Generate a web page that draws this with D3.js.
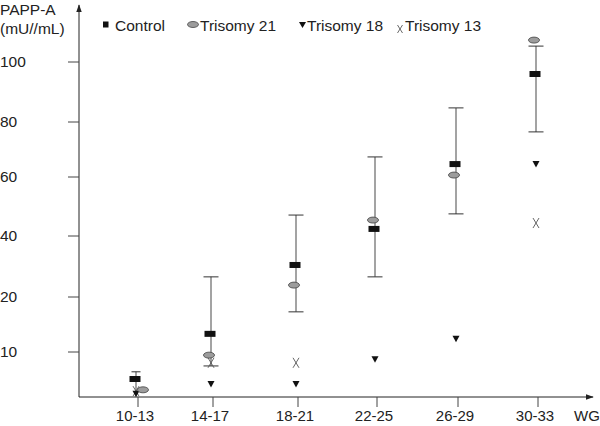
<!DOCTYPE html>
<html><head><meta charset="utf-8">
<script src="https://cdn.jsdelivr.net/npm/d3@7"></script>
<style>body{margin:0;background:#fff}svg{display:block;font-family:"Liberation Sans",Arial,sans-serif}</style>
</head><body><svg id="c" width="600" height="426"></svg>
<script>
const categories = ["10-13","14-17","18-21","22-25","26-29","30-33"];
const controlMean = [4.0, 13.3, 30.5, 42.4, 64.7, 96.0];
const controlHigh = [5.6, 26.6, 47.1, 67.3, 84.7, 105.3];
const controlLow  = [0.9, 6.9, 17.3, 26.6, 47.5, 76.4];
const trisomy21 = [1.6, 9.3, 23.9, 45.4, 60.7, 107.3];
const trisomy18 = [0.7, 2.9, 2.9, 8.4, 12.4, 64.7];
const trisomy13 = [1.3, 7.6, 7.6, null, null, 44.4];
const yTicks = [10, 20, 40, 60, 80, 100];
const legendLabels = ["Control", "Trisomy 21", "Trisomy 18", "Trisomy 13"];

const svg = d3.select("#c");
const ink = "#222";
// piecewise scales (the original axis is not linear)
const y = d3.scaleLinear().domain([0,10,20,40,60,80,100,120]).range([397,352,297,236,177,122,62,2]);
const x = d3.scaleLinear().domain(d3.range(categories.length)).range([138,213,298,377,458,538]);

svg.append("defs").append("marker").attr("id","arr").attr("viewBox","0 0 10 10")
  .attr("refX",9).attr("refY",5).attr("markerWidth",8).attr("markerHeight",8).attr("orient","auto")
  .append("path").attr("d","M0,1.5 L10,5 L0,8.5 Z").attr("fill",ink);
svg.append("line").attr("x1",79).attr("y1",y(0)).attr("x2",79).attr("y2",5)
  .attr("stroke",ink).attr("stroke-width",1).attr("marker-end","url(#arr)");
svg.append("line").attr("x1",79).attr("y1",y(0)).attr("x2",593).attr("y2",y(0))
  .attr("stroke",ink).attr("stroke-width",1).attr("marker-end","url(#arr)");

const yAxis = svg.append("g");
yTicks.forEach(t => {
  yAxis.append("line").attr("x1",68).attr("x2",79).attr("y1",y(t)).attr("y2",y(t)).attr("stroke","#444");
  yAxis.append("text").attr("x",0).attr("y",y(t)).attr("dy","0.35em").attr("font-size",15.5).attr("fill",ink).text(t);
});
categories.forEach((c,i) => {
  svg.append("line").attr("x1",x(i)).attr("x2",x(i)).attr("y1",y(0)).attr("y2",y(0)+10).attr("stroke","#444");
  svg.append("text").attr("x",x(i)-3).attr("y",421).attr("text-anchor","middle").attr("font-size",15).attr("fill",ink).text(c);
});
svg.append("text").attr("x",574).attr("y",421).attr("font-size",15).attr("fill",ink).text("WG");
svg.append("text").attr("x",0).attr("y",14.5).attr("font-size",15.5).attr("fill",ink).text("PAPP-A");
svg.append("text").attr("x",0).attr("y",34).attr("font-size",15.5).attr("fill",ink).text("(mU//mL)");

function rectSym(g,cx,cy){ g.append("rect").attr("x",cx-5.5).attr("y",cy-3).attr("width",11).attr("height",6).attr("fill","#111"); }
function ellSym(g,cx,cy){ g.append("ellipse").attr("cx",cx).attr("cy",cy).attr("rx",5.5).attr("ry",3).attr("fill","#9c9c9c").attr("stroke","#444").attr("stroke-width",0.8); }
function triSym(g,cx,cy){ g.append("path").attr("d",`M${cx-3.5},${cy-3} L${cx+3.5},${cy-3} L${cx},${cy+3.5} Z`).attr("fill","#111"); }
function xSym(g,cx,cy){ g.append("path").attr("d",`M${cx-3},${cy-5} Q${cx},${cy} ${cx+3},${cy+5} M${cx+3},${cy-5} L${cx-3},${cy+5}`).attr("fill","none").attr("stroke","#555").attr("stroke-width",0.9); }

const marks = svg.append("g");
categories.forEach((c,i) => {
  const cx = x(i)-2;
  marks.append("line").attr("x1",cx).attr("x2",cx).attr("y1",y(controlHigh[i])).attr("y2",y(controlLow[i])).attr("stroke","#666").attr("stroke-width",1.2);
  const w = i===0 ? 4.5 : 7.5;
  [controlHigh[i], controlLow[i]].forEach(v => {
    if (i===0 && v===controlLow[i]) return;
    marks.append("line").attr("x1",cx-w).attr("x2",cx+w).attr("y1",y(v)).attr("y2",y(v)).attr("stroke","#333").attr("stroke-width",1);
  });
});
categories.forEach((c,i) => {
  if (trisomy13[i] != null) xSym(marks, x(i)-2, y(trisomy13[i]));
  triSym(marks, x(i)-2, y(trisomy18[i]));
  ellSym(marks, x(i) + (i===0 ? 5 : -4), y(trisomy21[i]));
  rectSym(marks, x(i)-3, y(controlMean[i]));
});

const lg = svg.append("g");
const ly = 25;
lg.append("rect").attr("x",103).attr("y",ly-3.5).attr("width",5.5).attr("height",6).attr("fill","#111");
lg.append("text").attr("x",115).attr("y",ly+5.5).attr("font-size",15.5).attr("fill",ink).text(legendLabels[0]);
ellSym(lg,193,ly-0.5);
lg.append("text").attr("x",200).attr("y",ly+5.5).attr("font-size",15.5).attr("fill",ink).text(legendLabels[1]);
lg.append("path").attr("d",`M${299},${ly-3} L${306},${ly-3} L${302.5},${ly+3} Z`).attr("fill","#111");
lg.append("text").attr("x",307).attr("y",ly+5.5).attr("font-size",15.5).attr("fill",ink).text(legendLabels[2]);
lg.append("path").attr("d",`M${397.5},${ly} Q${400},${ly+4} ${402.5},${ly+8} M${402.5},${ly} L${397.5},${ly+8}`).attr("fill","none").attr("stroke","#444").attr("stroke-width",0.8);
lg.append("text").attr("x",405).attr("y",ly+5.5).attr("font-size",15.5).attr("fill",ink).text(legendLabels[3]);
</script></body></html>
